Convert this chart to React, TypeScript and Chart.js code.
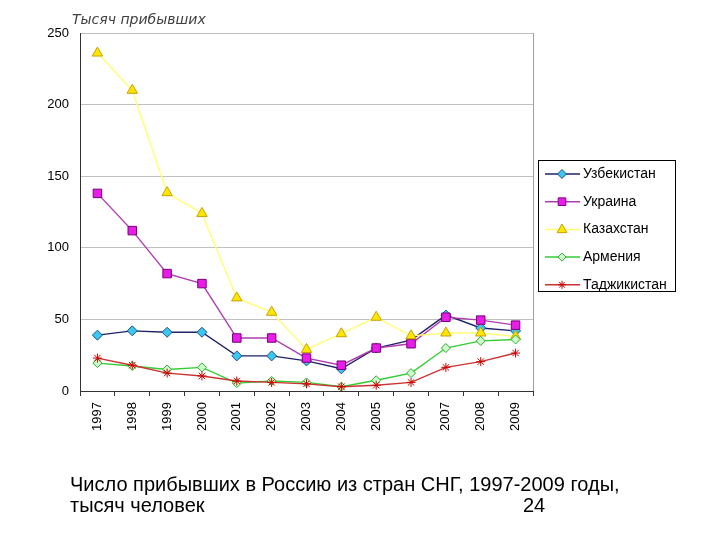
import React, { useEffect, useRef } from "react";
import { Chart, registerables } from "chart.js";

Chart.register(...registerables);

const years = ["1997","1998","1999","2000","2001","2002","2003","2004","2005","2006","2007","2008","2009"];
const uzbekistan = [39, 42, 41, 41, 24.5, 24.5, 21, 15.5, 30, 35.5, 53, 44, 42];
const ukraine = [138, 112, 82, 75, 37, 37, 23, 18, 30, 33, 51.5, 49.5, 46];
const kazakhstan = [236, 210, 138.5, 124, 65, 55, 29, 40, 51.5, 38.5, 40.5, 40.5, 38];
const armenia = [19.5, 17.5, 15, 16.5, 5.5, 7, 6, 3, 7.5, 12.5, 30, 35, 36];
const tajikistan = [23, 18, 12.5, 10.5, 7, 6, 5, 3, 4, 6, 16.5, 20.5, 26.5];
const seriesNames = ["Узбекистан", "Украина", "Казахстан", "Армения", "Таджикистан"];
const yTicks = [0, 50, 100, 150, 200, 250];

const styles = [
  { line: "#1f2266", fill: "#3cc8ee", border: "#1f4f8a", point: "rectRot", r: 5 },
  { line: "#b03cb0", fill: "#e81ee8", border: "#7a007a", point: "rect", r: 6 },
  { line: "#ffff70", fill: "#ffe600", border: "#c8a000", point: "triangle", r: 6 },
  { line: "#33cc33", fill: "#ccffcc", border: "#2faa2f", point: "rectRot", r: 4.5 },
  { line: "#cc3333", fill: "#cc0000", border: "#cc0000", point: "star", r: 4.5 },
];

function drawMarker(ctx: CanvasRenderingContext2D, style: string, r: number, x: number, y: number) {
  ctx.beginPath();
  if (style === "rectRot") {
    ctx.moveTo(x, y - r); ctx.lineTo(x + r, y); ctx.lineTo(x, y + r); ctx.lineTo(x - r, y); ctx.closePath();
    ctx.fill(); ctx.stroke();
  } else if (style === "rect") {
    const s = r * Math.SQRT1_2;
    ctx.rect(x - s, y - s, 2 * s, 2 * s);
    ctx.fill(); ctx.stroke();
  } else if (style === "triangle") {
    ctx.moveTo(x, y - r); ctx.lineTo(x + r * 0.9, y + r * 0.6); ctx.lineTo(x - r * 0.9, y + r * 0.6); ctx.closePath();
    ctx.fill(); ctx.stroke();
  } else {
    for (let k = 0; k < 4; k++) {
      const a = (k * Math.PI) / 4;
      ctx.moveTo(x - Math.cos(a) * r, y - Math.sin(a) * r);
      ctx.lineTo(x + Math.cos(a) * r, y + Math.sin(a) * r);
    }
    ctx.stroke();
  }
}

const decorPlugin = {
  id: "decor",
  afterDraw(chart: any) {
    const { ctx, chartArea } = chart;
    ctx.save();
    ctx.strokeStyle = "#a0a0a0";
    ctx.lineWidth = 1;
    ctx.beginPath();
    ctx.moveTo(Math.round(chartArea.right) + 0.5, chartArea.top);
    ctx.lineTo(Math.round(chartArea.right) + 0.5, chartArea.bottom);
    ctx.stroke();
    ctx.fillStyle = "#404040";
    ctx.font = "oblique 14px 'DejaVu Sans', sans-serif";
    ctx.textBaseline = "alphabetic";
    ctx.textAlign = "left";
    ctx.fillText("Тысяч прибывших", 72, 24);
    const lx = 538.5, ly = 160.5, lw = 137, lh = 131;
    ctx.strokeStyle = "#000000";
    ctx.lineWidth = 1;
    ctx.strokeRect(lx, ly, lw, lh);
    const ds = chart.data.datasets;
    for (let i = 0; i < ds.length; i++) {
      const y = 174 + i * 27.7;
      const s = styles[i];
      ctx.strokeStyle = s.line;
      ctx.lineWidth = 1.5;
      ctx.beginPath();
      ctx.moveTo(545, y);
      ctx.lineTo(580, y);
      ctx.stroke();
      ctx.fillStyle = s.fill;
      ctx.strokeStyle = s.border;
      ctx.lineWidth = 1;
      drawMarker(ctx, s.point, s.r * 0.9, 562, y);
      ctx.fillStyle = "#000000";
      ctx.font = "14px 'Liberation Sans', Arial, sans-serif";
      ctx.textBaseline = "middle";
      ctx.fillText(ds[i].label, 583, y);
    }
    ctx.restore();
  },
};

export default function App() {
  const ref = useRef<HTMLCanvasElement>(null);
  useEffect(() => {
    const values = [uzbekistan, ukraine, kazakhstan, armenia, tajikistan];
    const chart = new Chart(ref.current!, {
      type: "line",
      data: {
        labels: years,
        datasets: values.map((v, i) => ({
          label: seriesNames[i],
          data: v,
          borderColor: styles[i].line,
          backgroundColor: styles[i].fill,
          pointBackgroundColor: styles[i].fill,
          pointBorderColor: styles[i].border,
          pointStyle: styles[i].point as any,
          pointRadius: styles[i].r,
          pointBorderWidth: 1,
          borderWidth: 1.4,
          tension: 0,
          fill: false,
          order: 5 - i,
        })),
      },
      options: {
        animation: false,
        responsive: false,
        events: [],
        layout: { padding: { left: 0, top: 33, right: 187, bottom: 0 } },
        plugins: { legend: { display: false }, tooltip: { enabled: false }, title: { display: false } },
        scales: {
          x: {
            type: "category",
            offset: true,
            afterFit: (s: any) => { s.height = 149; },
            grid: { display: true, drawOnChartArea: false, offset: true, tickLength: 5, color: "#333333" },
            border: { color: "#333333", width: 1 },
            ticks: {
              minRotation: 90, maxRotation: 90, autoSkip: false, padding: 6,
              color: "#000000",
              font: { family: "'Liberation Sans', Arial, sans-serif", size: 13 },
            },
          },
          y: {
            min: 0, max: 250,
            afterFit: (s: any) => { s.width = 80; },
            afterBuildTicks: (s: any) => { s.ticks = yTicks.map((v) => ({ value: v })); },
            grid: { color: "#c0c0c0", tickLength: 0, drawTicks: false },
            border: { color: "#333333", width: 1 },
            ticks: {
              padding: 11,
              color: "#000000",
              font: { family: "'Liberation Sans', Arial, sans-serif", size: 13 },
            },
          },
        },
      },
      plugins: [decorPlugin],
    });
    return () => chart.destroy();
  }, []);
  return (
    <div style={{ position: "absolute", left: 0, top: 0, width: 720, height: 540, background: "#fff" }}>
      <canvas ref={ref} width={720} height={540} style={{ position: "absolute", left: 0, top: 0 }} />
      <div style={{ position: "absolute", left: 70, top: 474, fontFamily: "'Liberation Sans', Arial, sans-serif", fontSize: 20, lineHeight: "21px", color: "#000", whiteSpace: "nowrap" }}>
        <div>Число прибывших в Россию из стран СНГ, 1997-2009 годы,</div>
        <div style={{ position: "relative" }}>
          тысяч человек
          <span style={{ position: "absolute", left: 453, top: 0 }}>24</span>
        </div>
      </div>
    </div>
  );
}
